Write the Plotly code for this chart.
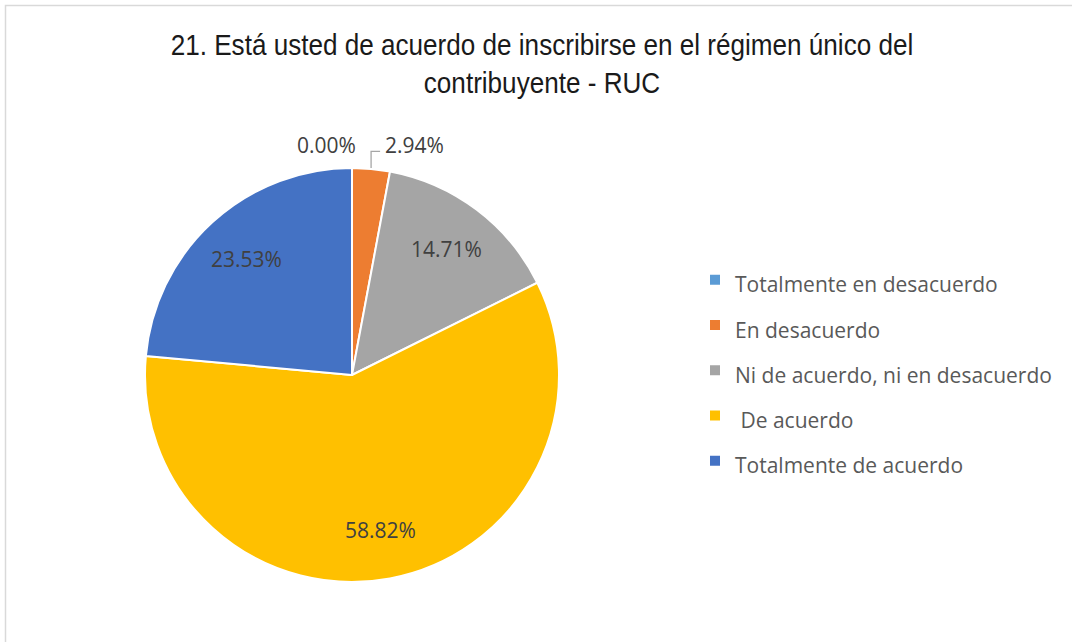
import math
import plotly.graph_objects as go

# ---- data ----
categories = ["Totalmente en desacuerdo", "En desacuerdo",
              "Ni de acuerdo, ni en desacuerdo", " De acuerdo",
              "Totalmente de acuerdo"]
percentages = [0.00, 2.94, 14.71, 58.82, 23.53]
colors = ["#5B9BD5", "#ED7D31", "#A5A5A5", "#FFC000", "#4472C4"]
title_text = ("21. Está usted de acuerdo de inscribirse en el régimen único del"
              "<br>contribuyente - RUC")

W, H = 1072, 642
cx, cy, R = 352, 375, 207

legend_labels = ['<span style="font-size:21px">%s</span>' % c for c in categories]

fig = go.Figure()
fig.add_trace(go.Pie(
    labels=legend_labels,
    values=percentages,
    marker=dict(colors=colors, line=dict(color="white", width=2)),
    sort=False,
    direction="clockwise",
    rotation=0,
    textinfo="none",
    hoverinfo="label+percent",
    domain=dict(x=[(cx - R) / W, (cx + R) / W],
                y=[1 - (cy + R) / H, 1 - (cy - R) / H]),
    showlegend=True,
))

# data labels placed from slice angles
total = sum(percentages)
annotations = []
shapes = []
cum = 0.0
label_font = dict(family="Open Sans, Lato, sans-serif", size=21, color="#404040")
for i, v in enumerate(percentages):
    mid = (cum + v / 2) / total * 2 * math.pi
    cum += v
    txt = "%.2f%%" % v
    if v >= 5:
        f = 0.76
        px = cx + f * R * math.sin(mid)
        py = cy - f * R * math.cos(mid)
        annotations.append(dict(x=px / W, y=1 - py / H, xref="paper", yref="paper",
                                text=txt, showarrow=False, font=label_font,
                                xanchor="center", yanchor="middle"))
    else:
        ex = cx + R * math.sin(mid)
        ey = cy - R * math.cos(mid)
        ly = cy - 1.08 * R
        if v == 0:
            annotations.append(dict(x=(ex + 6) / W, y=1 - (ly - 6) / H, xref="paper", yref="paper",
                                    text=txt, showarrow=False, font=label_font,
                                    xanchor="right", yanchor="middle"))
        else:
            annotations.append(dict(x=(ex + 12) / W, y=1 - (ly - 6) / H, xref="paper", yref="paper",
                                    text=txt, showarrow=False, font=label_font,
                                    xanchor="left", yanchor="middle"))
            shapes.append(dict(type="path", xref="paper", yref="paper",
                               path="M %f %f L %f %f L %f %f" % (
                                   ex / W, 1 - (ey - 1) / H,
                                   ex / W, 1 - ly / H,
                                   (ex + 9) / W, 1 - ly / H),
                               line=dict(color="#A6A6A6", width=1.3)))

# chart border
shapes.append(dict(type="rect", xref="paper", yref="paper",
                   x0=5.5 / W, x1=1.02, y0=-0.02, y1=1 - 5.5 / H,
                   line=dict(color="#D9D9D9", width=1.5), fillcolor="rgba(0,0,0,0)"))

fig.update_layout(
    width=W, height=H,
    margin=dict(l=0, r=0, t=0, b=0),
    paper_bgcolor="white",
    plot_bgcolor="white",
    title=dict(text=title_text, x=542 / W, xanchor="center",
               y=1 - 55 / H, yanchor="top",
               font=dict(family="Liberation Sans Narrow, Arial Narrow, Liberation Sans, sans-serif",
                         size=29, color="#1A1A1A")),
    legend=dict(x=695 / W, xanchor="left", y=1 - 252 / H, yanchor="top",
                font=dict(family="Open Sans, Lato, sans-serif", size=32.5, color="#595959"),
                bgcolor="rgba(0,0,0,0)"),
    annotations=annotations,
    shapes=shapes,
)

post = """
document.body.style.margin = '0';
var gd = document.getElementById('{plot_id}');
var t = gd.querySelector('.gtitle');
if (t) {
  var x = parseFloat(t.getAttribute('x'));
  t.setAttribute('transform', 'translate(' + x + ',0) scale(0.9,1) translate(' + (-x) + ',0)');
}
"""

fig.write_html("out.html", post_script=post, config={"displayModeBar": False})
